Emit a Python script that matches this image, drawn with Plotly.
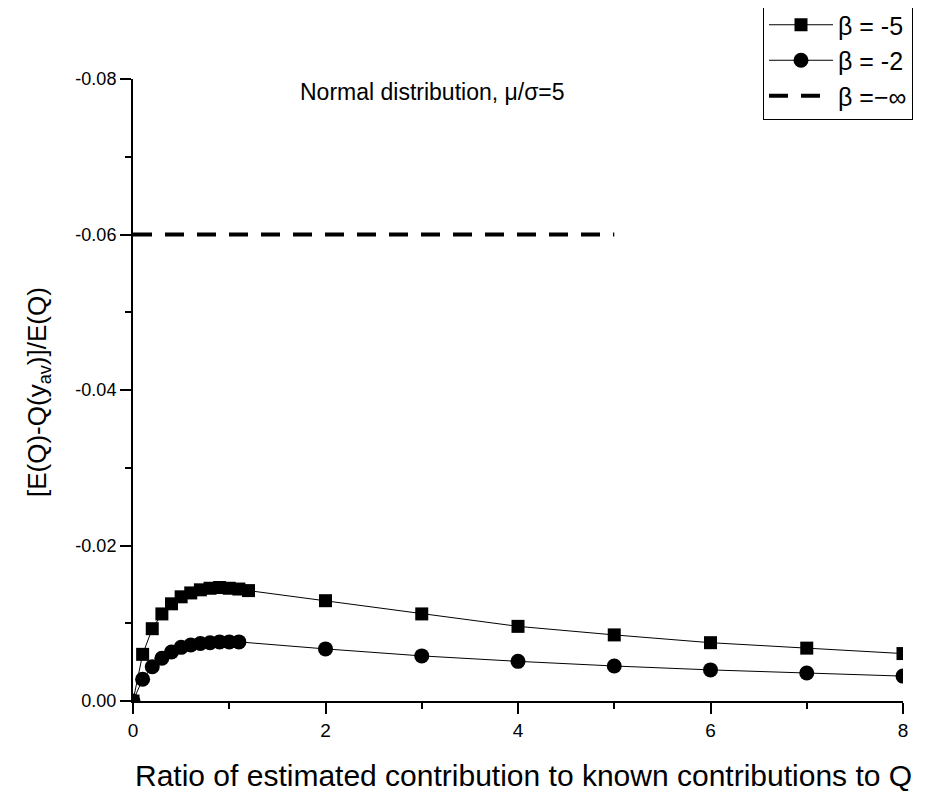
import plotly.graph_objects as go

# ---- data ----
x_b5 = [0, 0.1, 0.2, 0.3, 0.4, 0.5, 0.6, 0.7, 0.8, 0.9, 1.0, 1.1, 1.2, 2, 3, 4, 5, 6, 7, 8]
y_b5 = [0, -0.0060, -0.0093, -0.0112, -0.0125, -0.0134, -0.0139, -0.0143, -0.0145, -0.0146,
        -0.0145, -0.0144, -0.0142, -0.0129, -0.0112, -0.0096, -0.0085, -0.0075, -0.0068, -0.0061]

x_b2 = [0, 0.1, 0.2, 0.3, 0.4, 0.5, 0.6, 0.7, 0.8, 0.9, 1.0, 1.1, 2, 3, 4, 5, 6, 7, 8]
y_b2 = [0, -0.0028, -0.0044, -0.0055, -0.0063, -0.0069, -0.0072, -0.0074, -0.0075, -0.0076,
        -0.0076, -0.0076, -0.0067, -0.0058, -0.0051, -0.0045, -0.0040, -0.0036, -0.0032]

x_inf = [0, 5]
y_inf = [-0.06, -0.06]

y_tickvals = [0, -0.02, -0.04, -0.06, -0.08]
y_ticktext = ["0.00", "-0.02", "-0.04", "-0.06", "-0.08"]
x_tickvals = [0, 2, 4, 6, 8]
x_ticktext = ["0", "2", "4", "6", "8"]

FONT = "Liberation Sans, Arial, sans-serif"

# page offset of the figure (browser body margin) is 8px; plot area in page px: x 133..903, y 79..701
PX0, PX1, PY0, PY1 = 133, 903, 79, 701


def px(xp):
    return (xp - PX0) / (PX1 - PX0)


def py(yp):
    return (PY1 - yp) / (PY1 - PY0)


fig = go.Figure()
fig.add_trace(go.Scatter(
    x=x_b5, y=y_b5, mode="lines+markers", name="β = -5",
    line=dict(color="black", width=1),
    marker=dict(symbol="square", size=13, color="black"),
))
fig.add_trace(go.Scatter(
    x=x_b2, y=y_b2, mode="lines+markers", name="β = -2",
    line=dict(color="black", width=1),
    marker=dict(symbol="circle", size=15, color="black"),
))
fig.add_trace(go.Scatter(
    x=x_inf, y=y_inf, mode="lines", name="β =−∞",
    line=dict(color="black", width=4, dash="19px,13px"),
))

fig.update_layout(
    width=922, height=784,
    paper_bgcolor="white", plot_bgcolor="white",
    margin=dict(l=125, r=27, t=71, b=91, autoexpand=False),
    font=dict(family=FONT, color="black", size=18),
    showlegend=True,
    legend=dict(
        x=px(763), y=py(1), xanchor="left", yanchor="top",
        bordercolor="black", borderwidth=1, bgcolor="white",
        font=dict(size=25, family=FONT),
        itemwidth=64, tracegroupgap=0,
    ),
    annotations=[
        dict(text="Normal distribution, μ/σ=5", xref="paper", yref="paper",
             x=px(432), y=py(92), xanchor="center", yanchor="middle",
             showarrow=False, font=dict(size=23, family=FONT, color="black")),
        dict(text="Ratio of estimated contribution to known contributions to Q",
             xref="paper", yref="paper", x=px(523), y=py(775),
             xanchor="center", yanchor="middle", showarrow=False,
             font=dict(size=30, family=FONT, color="black")),
        dict(text="[E(Q)-Q(y<sub>av</sub>)]/E(Q)",
             xref="paper", yref="paper", x=px(38), y=py(392),
             xanchor="center", yanchor="middle", textangle=-90, showarrow=False,
             font=dict(size=26, family=FONT, color="black")),
    ],
)

fig.update_xaxes(
    range=[0, 8], showline=True, linecolor="black", linewidth=2,
    ticks="outside", ticklen=11, tickwidth=2, tickcolor="black",
    tickvals=x_tickvals, ticktext=x_ticktext, showgrid=False, zeroline=False,
    tickfont=dict(size=19),
    minor=dict(ticks="outside", ticklen=6, tickwidth=2, tickcolor="black", dtick=1, showgrid=False),
)
fig.update_yaxes(
    range=[0, -0.08], showline=True, linecolor="black", linewidth=2,
    ticks="outside", ticklen=11, tickwidth=2, tickcolor="black",
    tickvals=y_tickvals, ticktext=y_ticktext, showgrid=False, zeroline=False,
    tickfont=dict(size=18),
    minor=dict(ticks="outside", ticklen=6, tickwidth=2, tickcolor="black", dtick=0.01, showgrid=False),
)

fig.write_html("out.html")
